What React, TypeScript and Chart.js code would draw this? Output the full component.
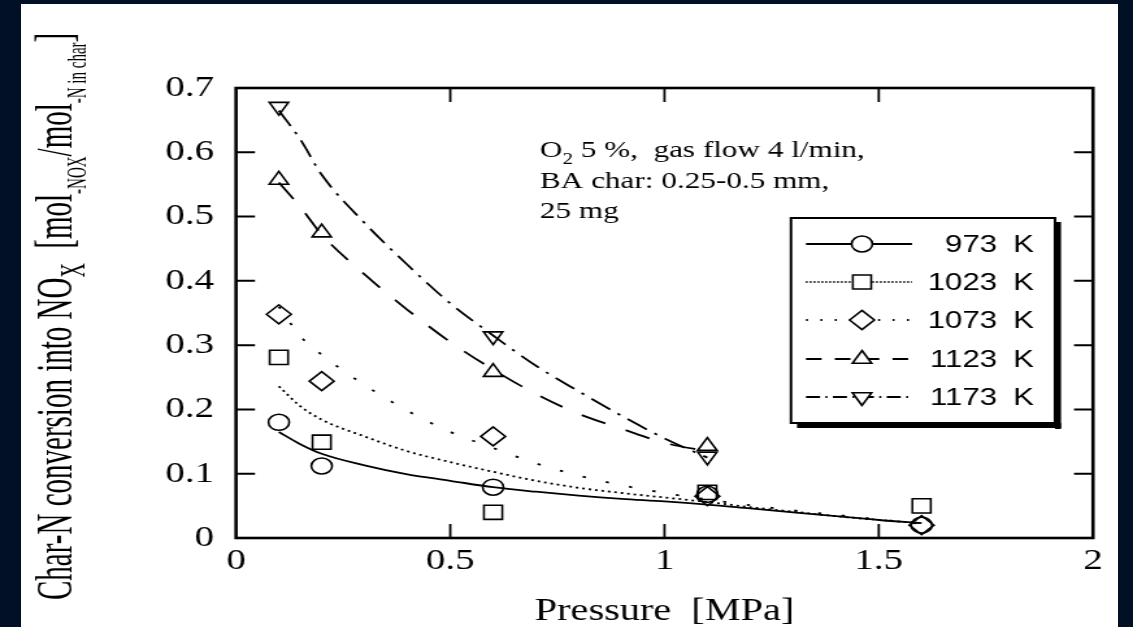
import React, { useEffect, useRef } from 'react';
import { Chart, registerables } from 'chart.js';
import { drawPoint } from 'chart.js/helpers';

Chart.register(...registerables);

// ---------------- data ----------------
const pressure973to1073 = [0.1, 0.2, 0.6, 1.1, 1.6];
const pressure1123 = [0.1, 0.2, 0.6, 1.1];
const pressure1173 = [0.1, 0.6, 1.1];

const conv973 = [0.18, 0.112, 0.079, 0.068, 0.02];
const conv1023 = [0.281, 0.149, 0.04, 0.071, 0.05];
const conv1073 = [0.348, 0.244, 0.158, 0.065, 0.02];
const conv1123 = [0.557, 0.475, 0.258, 0.143];
const conv1173 = [0.671, 0.314, 0.127];

// fitted curves
const fitPressure = [0.1, 0.15, 0.2, 0.3, 0.4, 0.5, 0.6, 0.7, 0.8, 0.9, 1.0, 1.1, 1.2, 1.3, 1.4, 1.5, 1.6];
const fit973 = [0.165, 0.146, 0.131, 0.113, 0.099, 0.089, 0.079, 0.072, 0.066, 0.061, 0.057, 0.052, 0.046, 0.04, 0.034, 0.028, 0.023];
const fit1023 = [0.236, 0.205, 0.184, 0.158, 0.135, 0.118, 0.103, 0.089, 0.078, 0.07, 0.063, 0.056, 0.048, 0.041, 0.034, 0.028, 0.023];
const fit1073 = [0.36, 0.314, 0.285, 0.238, 0.198, 0.165, 0.14, 0.116, 0.097, 0.082, 0.07, 0.06, 0.051, 0.043, 0.036, 0.029, 0.022];
const fitPressureHigh = [0.1, 0.15, 0.2, 0.3, 0.4, 0.5, 0.6, 0.7, 0.8, 0.9, 1.0, 1.1];
const fit1123 = [0.553, 0.515, 0.472, 0.41, 0.355, 0.305, 0.262, 0.224, 0.193, 0.17, 0.148, 0.135];
const fit1173 = [0.665, 0.62, 0.565, 0.49, 0.425, 0.365, 0.315, 0.268, 0.228, 0.19, 0.155, 0.125];

const xTickLabels = ['0', '0.5', '1', '1.5', '2'];
const yTickLabels = ['0', '0.1', '0.2', '0.3', '0.4', '0.5', '0.6', '0.7'];
const legendTemps = ['973', '1023', '1073', '1123', '1173'];
const xTitle = 'Pressure  [MPa]';
const noteLine1 = ['O', '2', ' 5 %,  gas flow 4 l/min,'];
const noteLine2 = 'BA char: 0.25-0.5 mm,';
const noteLine3 = '25 mg';
const yTitleParts = ['Char-N conversion into NO', 'X', '  [mol', '-NOX', '/mol', '-N in char', ']'];

// ---------------- layout ----------------
const W = 1133;
const H = 627;
const CW = 872; // canvas width before horizontal stretch
const K = W / CW;
const ax = (px: number) => px / K;
const SERIF = '"Liberation Serif", "Times New Roman", serif';
const SANS = '"Liberation Sans", Arial, sans-serif';

const styles = [
  { style: 'circle', radius: 8, rotation: 0, dash: [] as number[] },
  { style: 'rect', radius: 10, rotation: 0, dash: [2, 3] },
  { style: 'rectRot', radius: 9.5, rotation: 0, dash: [2.5, 16] },
  { style: 'triangle', radius: 8.5, rotation: 0, dash: [20, 17] },
  { style: 'triangle', radius: 8.5, rotation: 180, dash: [18, 7, 2.5, 7] },
];

const toPts = (xs: number[], ys: number[]) => xs.map((x, i) => ({ x, y: ys[i] }));

const framePlugin = {
  id: 'frame',
  afterDraw(chart: any) {
    const { ctx, chartArea: a, scales } = chart;
    ctx.save();
    ctx.strokeStyle = '#000';
    ctx.lineWidth = 2.6;
    ctx.strokeRect(a.left, a.top, a.right - a.left, a.bottom - a.top);
    ctx.lineWidth = 2;
    const ys = scales.y;
    ys.ticks.forEach((t: any) => {
      if (t.value <= ys.min || t.value >= ys.max) return;
      const y = ys.getPixelForValue(t.value);
      ctx.beginPath();
      ctx.moveTo(a.left, y);
      ctx.lineTo(a.left + ax(19), y);
      ctx.moveTo(a.right, y);
      ctx.lineTo(a.right - ax(19), y);
      ctx.stroke();
    });
    const xs = scales.x;
    ctx.lineWidth = 1.8;
    xs.ticks.forEach((t: any) => {
      if (t.value <= xs.min || t.value >= xs.max) return;
      const x = xs.getPixelForValue(t.value);
      ctx.beginPath();
      ctx.moveTo(x, a.bottom);
      ctx.lineTo(x, a.bottom - 14);
      ctx.moveTo(x, a.top);
      ctx.lineTo(x, a.top + 14);
      ctx.stroke();
    });
    ctx.restore();
  },
};

const legendPlugin = {
  id: 'boxLegend',
  afterDraw(chart: any) {
    const { ctx } = chart;
    const x0 = ax(791), x1 = ax(1055), y0 = 218, y1 = 423;
    ctx.save();
    ctx.fillStyle = '#fff';
    ctx.fillRect(x0, y0, x1 - x0, y1 - y0);
    ctx.fillStyle = '#000';
    ctx.fillRect(x1, y0 + 4, ax(6), y1 - y0 + 2);
    ctx.fillRect(x0 + ax(6), y1, x1 - x0, 5);
    ctx.strokeStyle = '#000';
    ctx.lineWidth = 2;
    ctx.strokeRect(x0, y0, x1 - x0, y1 - y0);
    const rows = [244, 282, 320, 359, 397];
    legendTemps.forEach((temp, i) => {
      const y = rows[i];
      const st = styles[i];
      ctx.lineWidth = 1.8;
      ctx.setLineDash(st.dash.map((d) => d * 0.6));
      ctx.beginPath();
      ctx.moveTo(ax(806), y);
      ctx.lineTo(ax(912), y);
      ctx.stroke();
      ctx.setLineDash([]);
      ctx.fillStyle = '#fff';
      ctx.lineWidth = 1.6;
      drawPoint(ctx, { pointStyle: st.style, radius: st.radius, rotation: st.rotation, borderWidth: 1.6 } as any, ax(862), y);
      ctx.fillStyle = '#000';
      ctx.font = `24px ${SANS}`;
      ctx.textBaseline = 'middle';
      ctx.textAlign = 'right';
      ctx.fillText(temp, ax(997), y + 1);
      ctx.textAlign = 'left';
      ctx.fillText('K', ax(1013), y + 1);
    });
    ctx.restore();
  },
};

const notePlugin = {
  id: 'note',
  afterDraw(chart: any) {
    const { ctx } = chart;
    ctx.save();
    ctx.fillStyle = '#000';
    ctx.textBaseline = 'alphabetic';
    ctx.textAlign = 'left';
    let x = ax(540);
    const b1 = 157;
    ctx.font = `24px ${SERIF}`;
    ctx.fillText(noteLine1[0], x, b1);
    x += ctx.measureText(noteLine1[0]).width;
    ctx.font = `16px ${SERIF}`;
    ctx.fillText(noteLine1[1], x, b1 + 7);
    x += ctx.measureText(noteLine1[1]).width;
    ctx.font = `24px ${SERIF}`;
    ctx.fillText(noteLine1[2], x, b1);
    ctx.fillText(noteLine2, ax(540), b1 + 31);
    ctx.fillText(noteLine3, ax(540), b1 + 61);
    ctx.restore();
  },
};

const yTitlePlugin = {
  id: 'yTitle',
  afterDraw(chart: any) {
    const { ctx } = chart;
    const sizes = [29, 20, 29, 15, 29, 15, 29];
    const dys = [0, 7, 0, 8, 0, 8, 0];
    ctx.save();
    ctx.translate(ax(72), 600);
    ctx.rotate(-Math.PI / 2);
    ctx.scale(1, 1.35);
    ctx.fillStyle = '#000';
    ctx.textBaseline = 'alphabetic';
    ctx.textAlign = 'left';
    let x = 0;
    yTitleParts.forEach((t, i) => {
      ctx.font = `${sizes[i]}px ${SERIF}`;
      ctx.fillText(t, x, dys[i]);
      x += ctx.measureText(t).width;
    });
    ctx.restore();
  },
};

export default function App() {
  const ref = useRef<HTMLCanvasElement | null>(null);

  useEffect(() => {
    if (!ref.current) return;
    const fits = [
      toPts(fitPressure, fit973),
      toPts(fitPressure, fit1023),
      toPts(fitPressure, fit1073),
      toPts(fitPressureHigh, fit1123),
      toPts(fitPressureHigh, fit1173),
    ];
    const marks = [
      toPts(pressure973to1073, conv973),
      toPts(pressure973to1073, conv1023),
      toPts(pressure973to1073, conv1073),
      toPts(pressure1123, conv1123),
      toPts(pressure1173, conv1173),
    ];
    const datasets: any[] = [];
    fits.forEach((d, i) => {
      datasets.push({
        label: legendTemps[i] + ' K fit',
        data: d,
        showLine: true,
        pointRadius: 0,
        borderColor: '#000',
        borderWidth: 1.8,
        borderDash: styles[i].dash,
        cubicInterpolationMode: 'monotone',
        fill: false,
      });
    });
    marks.forEach((d, i) => {
      datasets.push({
        label: legendTemps[i] + ' K',
        data: d,
        showLine: false,
        pointStyle: styles[i].style,
        pointRadius: styles[i].radius,
        pointRotation: styles[i].rotation,
        pointBorderColor: '#000',
        pointBackgroundColor: 'rgba(0,0,0,0)',
        pointBorderWidth: 1.6,
      });
    });

    const chart = new Chart(ref.current, {
      type: 'scatter',
      data: { datasets },
      options: {
        responsive: false,
        maintainAspectRatio: false,
        animation: false,
        devicePixelRatio: 1,
        layout: { padding: { top: 88, right: CW - ax(1093), left: 0, bottom: 0 } },
        plugins: { legend: { display: false }, tooltip: { enabled: false } },
        scales: {
          x: {
            type: 'linear',
            min: 0,
            max: 2,
            afterFit: (s: any) => { s.height = H - 538; },
            grid: { display: false, drawTicks: false },
            border: { display: false },
            ticks: {
              stepSize: 0.5,
              padding: 5,
              maxRotation: 0,
              autoSkip: false,
              color: '#000',
              font: { family: SERIF, size: 30 },
              callback: (v: any) => xTickLabels[Math.round(Number(v) * 2)],
            },
            title: {
              display: true,
              text: xTitle,
              color: '#000',
              font: { family: SERIF, size: 31, lineHeight: 1 },
              padding: { top: 0, bottom: 0 },
            },
          },
          y: {
            type: 'linear',
            min: 0,
            max: 0.7,
            afterFit: (s: any) => { s.width = ax(236); },
            grid: { display: false, drawTicks: false },
            border: { display: false },
            ticks: {
              stepSize: 0.1,
              padding: 17,
              autoSkip: false,
              color: '#000',
              font: { family: SERIF, size: 30 },
              callback: (v: any) => yTickLabels[Math.round(Number(v) * 10)],
            },
          },
        },
      } as any,
      plugins: [framePlugin, legendPlugin, notePlugin, yTitlePlugin],
    });
    return () => chart.destroy();
  }, []);

  return (
    <div style={{ position: 'fixed', left: 0, top: 0, width: W, height: H, background: '#021026', overflow: 'hidden' }}>
      <div style={{ position: 'absolute', left: 21, top: 4, width: 1097, height: H - 4, background: '#fff' }} />
      <div style={{ position: 'absolute', left: 0, top: 0, width: CW, height: H, transform: `scaleX(${K})`, transformOrigin: '0 0' }}>
        <canvas ref={ref} width={CW} height={H} style={{ width: CW, height: H, display: 'block' }} />
      </div>
    </div>
  );
}
